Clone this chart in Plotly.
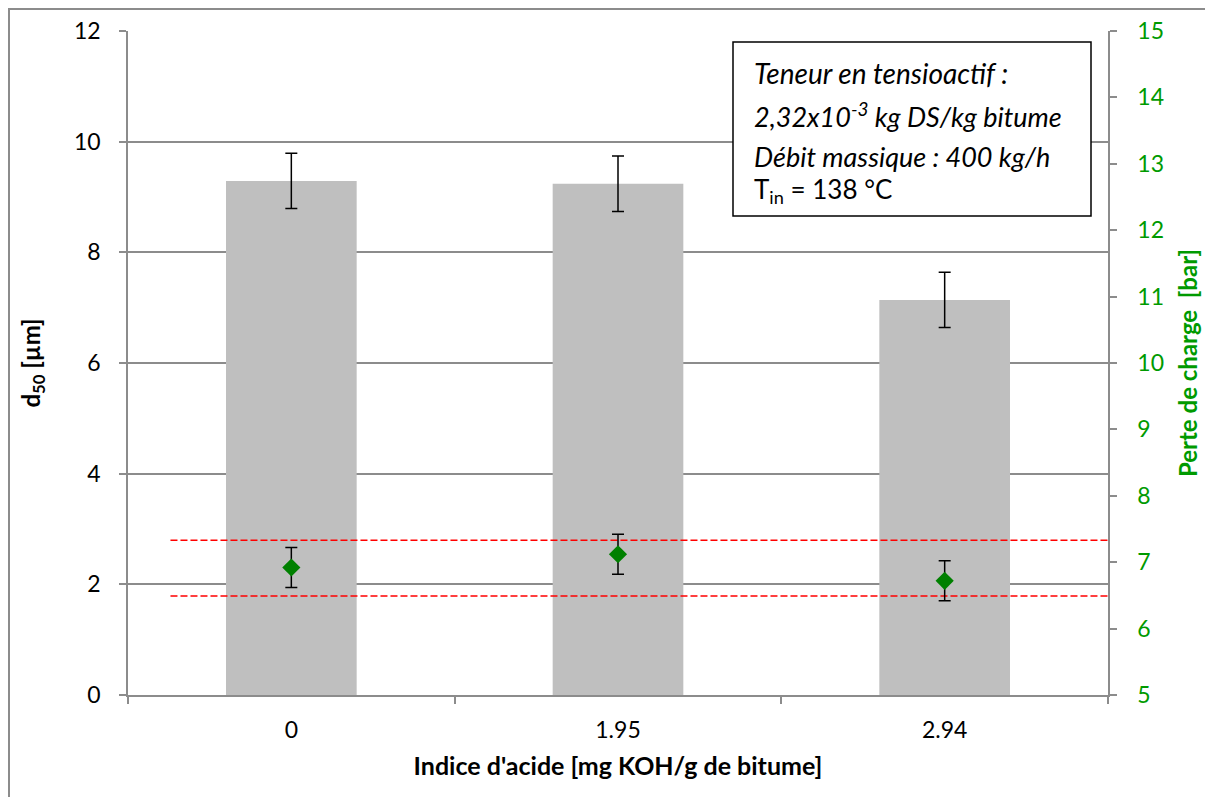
import plotly.graph_objects as go

# ---- data ----
categories = ["0", "1.95", "2.94"]
d50 = [9.29, 9.24, 7.14]
d50_err = [0.5, 0.5, 0.5]
perte = [6.92, 7.12, 6.72]
perte_err = [0.3, 0.3, 0.3]
red_upper = 7.33
red_lower = 6.49
red_x = [-0.37, 2.55]

FONT = "Lato"
GREEN = "#009A00"
GRID = "#8C8C8C"

xpos = list(range(len(categories)))

fig = go.Figure()
fig.add_trace(go.Bar(
    x=xpos, y=d50, width=0.4, marker=dict(color="#BFBFBF", line=dict(width=0)),
    error_y=dict(type="data", array=d50_err, color="black", thickness=1.5, width=6),
    yaxis="y", showlegend=False))
for val in (red_upper, red_lower):
    fig.add_trace(go.Scatter(
        x=red_x, y=[val, val], mode="lines", yaxis="y2",
        line=dict(color="#FF0000", width=1.5, dash="7px,3px"), showlegend=False))
fig.add_trace(go.Scatter(
    x=xpos, y=perte, mode="markers", yaxis="y2",
    marker=dict(symbol="diamond", size=14, color="#008000"),
    error_y=dict(type="data", array=perte_err, color="black", thickness=1.5, width=6),
    showlegend=False))

# page is offset by the 8px body margin
OFF = 8
W, H = 1197, 789
ml, mt = 128 - OFF, 31 - OFF
mr = W - (1108 - OFF)
mb = H - (695 - OFF)
pw, ph = W - ml - mr, H - mt - mb
def px(x): return (x - 128) / pw      # page x -> paper
def py(y): return (695 - y) / ph      # page y -> paper

fig.update_layout(
    width=W, height=H,
    margin=dict(l=ml, r=mr, t=mt, b=mb, autoexpand=False),
    plot_bgcolor="white", paper_bgcolor="white",
    font=dict(family=FONT, size=23, color="black"),
    xaxis=dict(
        range=[-0.5, 2.5], tickmode="array", tickvals=xpos, ticktext=categories,
        ticks="", showgrid=False, zeroline=False,
        showline=True, linecolor=GRID, linewidth=1.5,
        ticklabelstandoff=14,
        minor=dict(tickmode="array", tickvals=[-0.5, 0.5, 1.5, 2.5], ticks="outside",
                   ticklen=7, tickcolor=GRID, tickwidth=1.5, showgrid=False),
        title=dict(text="<b>Indice d'acide [mg KOH/g de bitume]</b>", standoff=15,
                   font=dict(size=25)),
    ),
    yaxis=dict(
        range=[0, 12], tickvals=[0, 2, 4, 6, 8, 10, 12], ticks="outside", ticklen=7,
        tickcolor=GRID, tickwidth=1.5, showgrid=True, gridcolor=GRID, gridwidth=1.5,
        zeroline=False, showline=True, linecolor=GRID, linewidth=1.5,
        ticklabelstandoff=14,
        title=dict(text="<b>d<sub>50</sub> [µm]</b>", standoff=27, font=dict(size=24)),
    ),
    yaxis2=dict(
        range=[5, 15], tickvals=list(range(5, 16)), overlaying="y", side="right",
        ticks="outside", ticklen=7, tickcolor=GRID, tickwidth=1.5,
        showgrid=False, zeroline=False, showline=True, linecolor=GRID, linewidth=1.5,
        tickfont=dict(color=GREEN), ticklabelstandoff=16,
        title=dict(text="<b>Perte de charge  [bar]</b>", standoff=17,
                   font=dict(color=GREEN, size=24)),
    ),
    shapes=[
        dict(type="rect", xref="paper", yref="paper",
             x0=px(9), x1=px(1260), y0=py(850), y1=py(9),
             line=dict(color="#8C8C8C", width=2), fillcolor="rgba(0,0,0,0)", layer="above"),
        dict(type="rect", xref="paper", yref="paper",
             x0=px(733), x1=px(1091), y0=py(216), y1=py(42),
             line=dict(color="black", width=1.5), fillcolor="white", layer="above"),
    ],
)

box_lines = [
    ("<i>Teneur en tensioactif :</i>", 73, 28),
    ("<i>2,32x10<sup>-3</sup> kg DS/kg bitume</i>", 115, 27),
    ("<i>Débit massique : 400 kg/h</i>", 156, 27),
    ("T<sub>in</sub> = 138 °C", 190, 26),
]
for txt, yy, fs in box_lines:
    fig.add_annotation(text=txt, xref="paper", yref="paper", x=px(752), y=py(yy),
                       xanchor="left", yanchor="middle", showarrow=False,
                       font=dict(family=FONT, size=fs, color="black"))

fig.write_html("out.html")
